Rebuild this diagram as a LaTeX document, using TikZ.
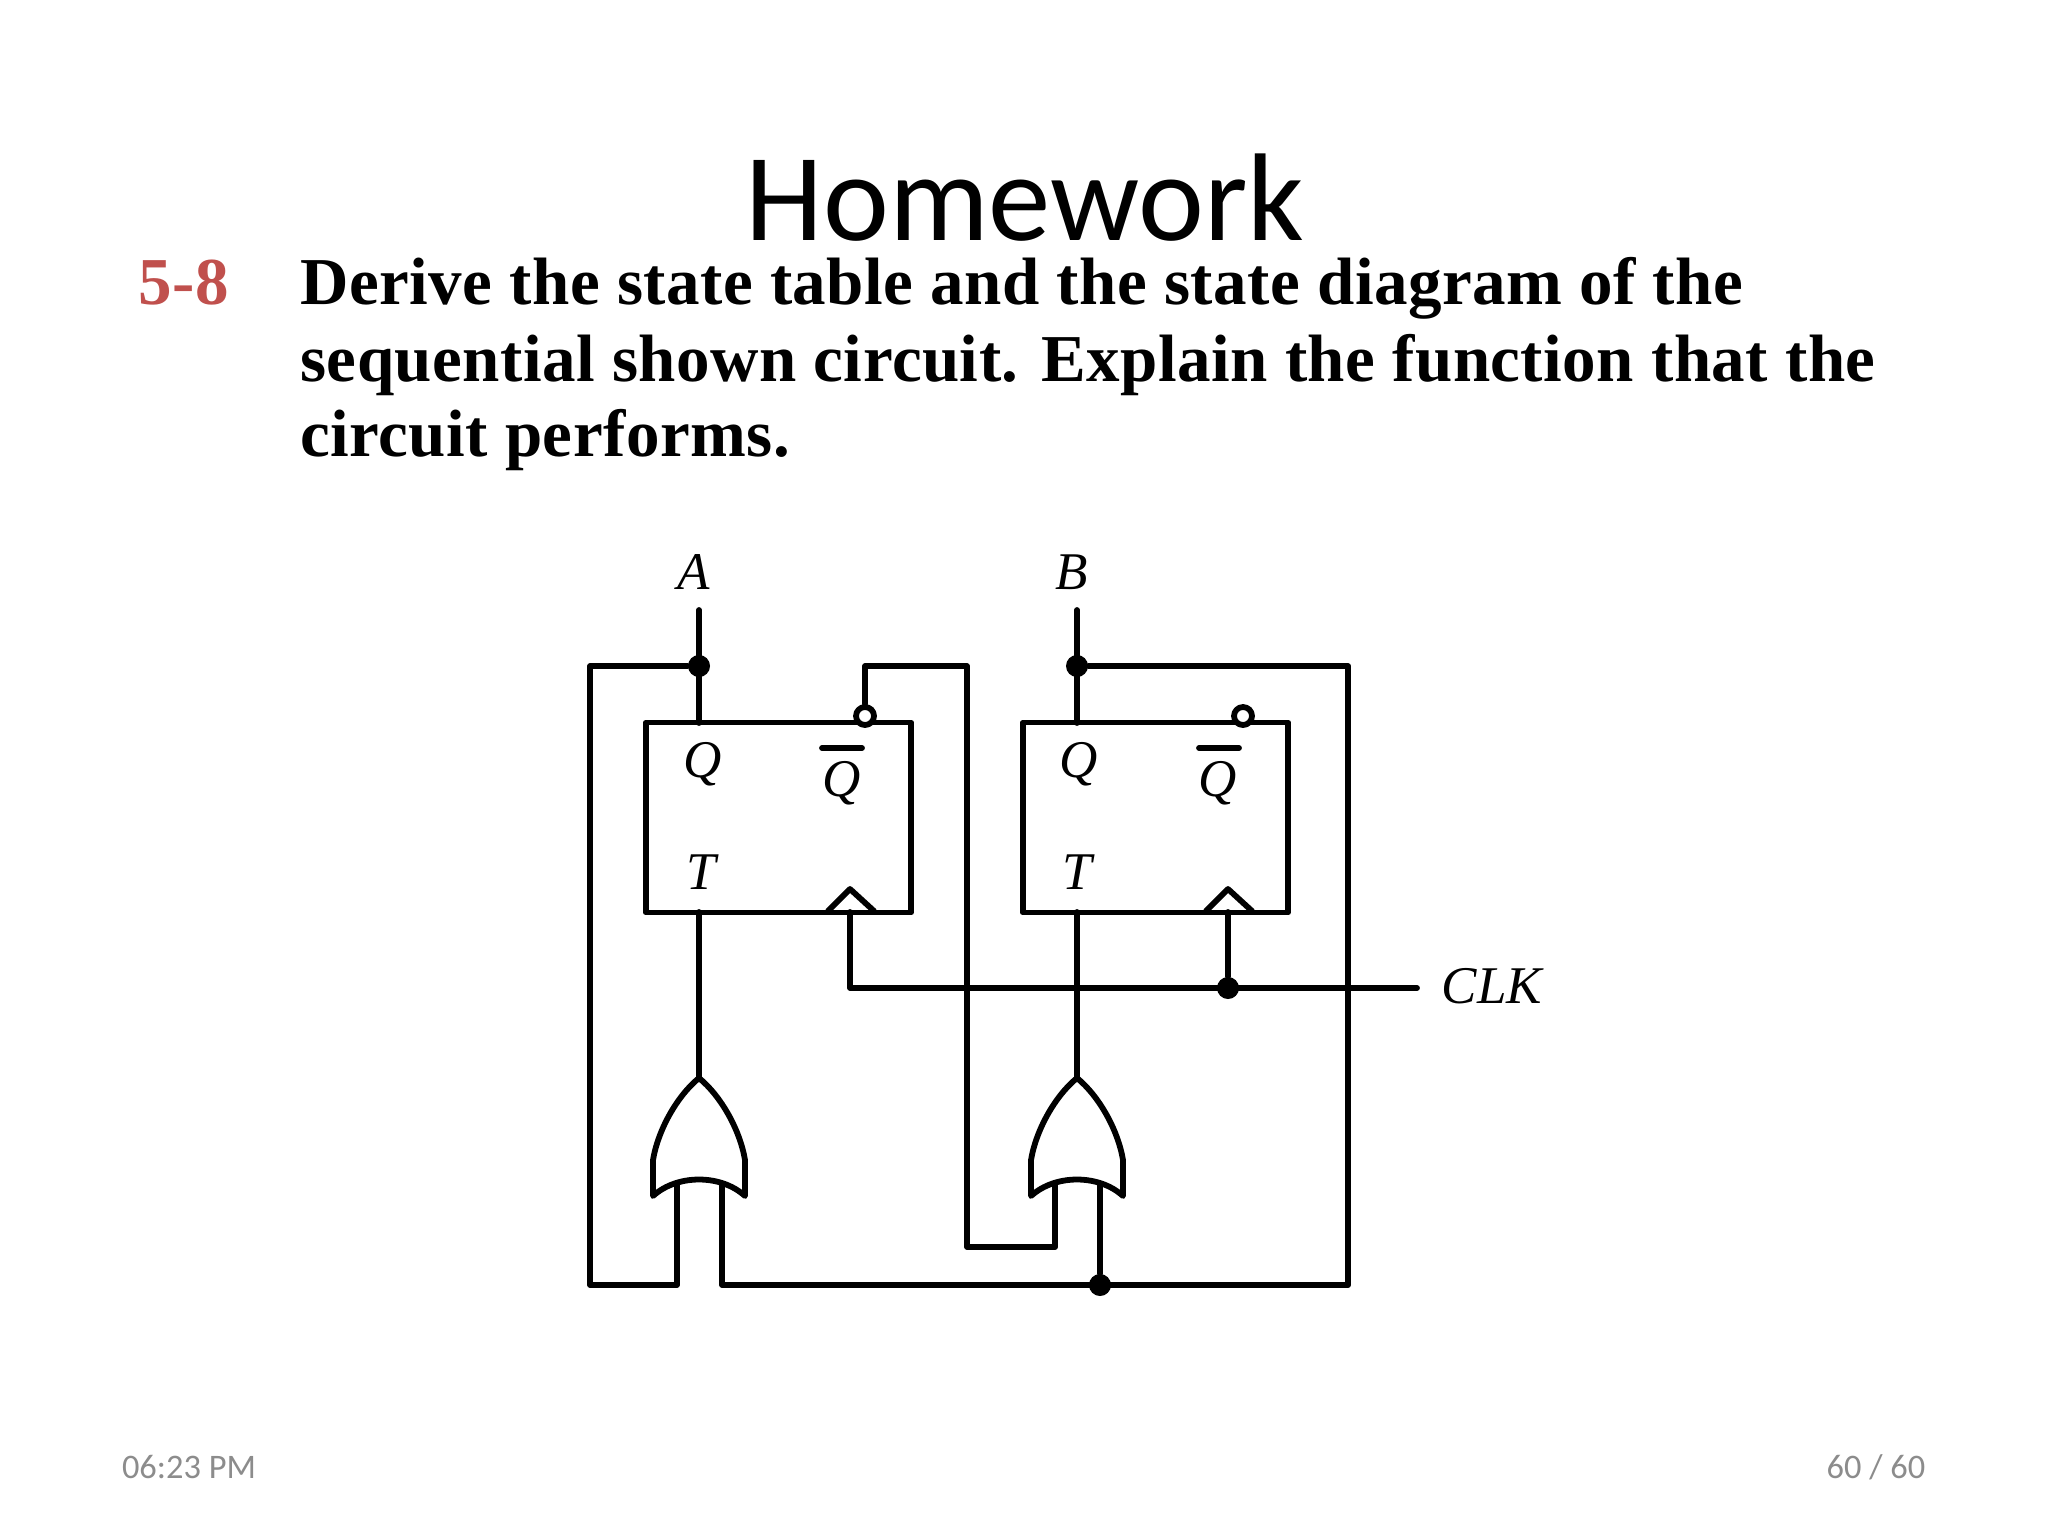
\documentclass[tikz,border=0pt]{standalone}
\usepackage{fontspec}
\setmainfont{Liberation Serif}
\newfontfamily\slidefont{Carlito}
\newfontfamily\taskfont[LetterSpace=0.7]{Liberation Serif}
\definecolor{hwred}{HTML}{C0504D}
\definecolor{footgray}{HTML}{8C8C8C}
\tikzset{
    wire/.style={line width=2.9pt, line join=round, line cap=round},
    ff/.style={draw, wire, minimum width=132.5pt, minimum height=95pt, inner sep=0pt},
    dot/.style={circle, fill=black, inner sep=0pt, minimum size=11pt},
    bubble/.style={circle, draw, wire, fill=white, inner sep=0pt, minimum size=9pt},
    sym/.style={inner sep=0pt, font=\fontsize{26.5}{26.5}\selectfont\itshape},
    line1/.style={anchor=base west, inner sep=0pt, font=\fontsize{33.5}{33.5}\taskfont\bfseries},
    foot/.style={anchor=base, inner sep=0pt, text=footgray, font=\fontsize{17.2}{17.2}\selectfont\slidefont},
    orgate/.pic={
        \coordinate (-out) at (0,0);
        \coordinate (-in1) at (-22,107);
        \coordinate (-in2) at (23,107);
        \draw[wire] (0,0) .. controls (22,18) and (41,52) .. (46,82) -- (46,118)
            .. controls (22,96) and (-22,96) .. (-46,118) -- (-46,82)
            .. controls (-41,52) and (-22,18) .. cycle;
    }
}
\begin{document}
\begin{tikzpicture}[x=0.5pt, y=-0.5pt]
    \useasboundingbox[fill=white] (0,0) rectangle (2048,1536);
    % slide text
    \node[anchor=base, inner sep=0pt, font=\fontsize{62.4}{62.4}\selectfont\slidefont] (title) at (1025,240) {Homework};
    \node[line1, text=hwred] (num) at (138,304) {5-8};
    \node[line1] (text1) at (300,304) {Derive the state table and the state diagram of the};
    \node[line1] (text2) at (300,381) {sequential shown circuit. Explain the function that the};
    \node[line1] (text3) at (300,456) {circuit performs.};
    \node[foot] (time) at (189,1478) {06:23 PM};
    \node[foot] (page) at (1876,1478) {60 / 60};
    % flip-flops
    \node[ff] (ffa) at (778.5,817.5) {};
    \node[ff] (ffb) at (1155.5,817.5) {};
    \node[sym] (qa) at (703,764) {Q};
    \node[sym] (nqa) at (842,783) {Q};
    \node[sym] (ta) at (701,872) {T};
    \node[sym] (qb) at (1079,764) {Q};
    \node[sym] (nqb) at (1218,783) {Q};
    \node[sym] (tb) at (1077,872) {T};
    \node[sym] (la) at (694,572) {A};
    \node[sym] (lb) at (1072,572) {B};
    \node[sym] (lclk) at (1492,986) {CLK};
    \coordinate (bara1) at (822,748);
    \coordinate (bara2) at (862,748);
    \coordinate (barb1) at (1199,748);
    \coordinate (barb2) at (1239,748);
    \draw[wire] (bara1) -- (bara2);
    \draw[wire] (barb1) -- (barb2);
    % clock marks
    \coordinate (cka1) at (828,911);
    \coordinate (cka) at (850,889);
    \coordinate (cka2) at (874,911);
    \coordinate (ckb1) at (1206,911);
    \coordinate (ckb) at (1228,889);
    \coordinate (ckb2) at (1252,911);
    \draw[wire] (cka1) -- (cka) -- (cka2);
    \draw[wire] (ckb1) -- (ckb) -- (ckb2);
    % or gates
    \pic (ga) at (699,1078) {orgate};
    \pic (gb) at (1077,1078) {orgate};
    % junctions and bends
    \node[dot] (ja) at (699,666) {};
    \node[dot] (jb) at (1077,666) {};
    \node[dot] (jclk) at (1228,988) {};
    \node[dot] (jfb) at (1100,1285) {};
    \node[bubble] (na) at (865,716) {};
    \node[bubble] (nb) at (1243,716) {};
    \coordinate (atop) at (699,610);
    \coordinate (btop) at (1077,610);
    \coordinate (aq) at (699,723);
    \coordinate (bq) at (1077,723);
    \coordinate (at) at (699,912);
    \coordinate (bt) at (1077,912);
    \coordinate (acp) at (850,912);
    \coordinate (bcp) at (1228,912);
    \coordinate (clk0) at (850,988);
    \coordinate (clk1) at (1417,988);
    \coordinate (l1) at (590,666);
    \coordinate (l2) at (590,1285);
    \coordinate (l3) at (677,1285);
    \coordinate (n1) at (865,666);
    \coordinate (n2) at (967,666);
    \coordinate (n3) at (967,1247);
    \coordinate (n4) at (1055,1247);
    \coordinate (r1) at (1348,666);
    \coordinate (r2) at (1348,1285);
    \coordinate (r3) at (722,1285);
    % wires
    \draw[wire] (atop) -- (aq);
    \draw[wire] (btop) -- (bq);
    \draw[wire] (at) -- (ga-out);
    \draw[wire] (bt) -- (gb-out);
    \draw[wire] (ja) -- (l1) -- (l2) -- (l3) -- (ga-in1);
    \draw[wire] (na) -- (n1) -- (n2) -- (n3) -- (n4) -- (gb-in1);
    \draw[wire] (jb) -- (r1) -- (r2) -- (r3) -- (ga-in2);
    \draw[wire] (gb-in2) -- (jfb);
    \draw[wire] (acp) -- (clk0) -- (clk1);
    \draw[wire] (bcp) -- (jclk);
\end{tikzpicture}
\end{document}
